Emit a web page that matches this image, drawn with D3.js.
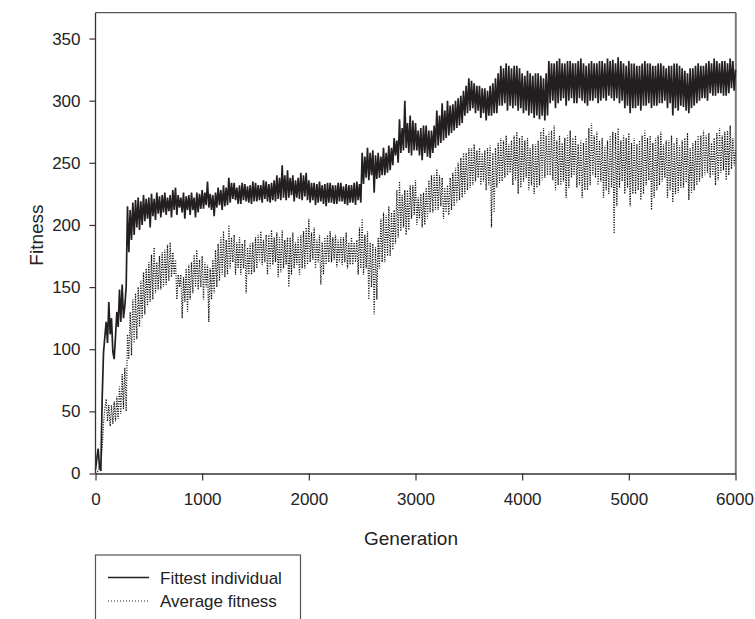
<!DOCTYPE html>
<html><head><meta charset="utf-8">
<script src="https://cdn.jsdelivr.net/npm/d3@7"></script>
<style>body{margin:0;background:#fff;}svg{display:block;font-family:"Liberation Sans",Arial,sans-serif;}</style>
</head><body>
<svg id="chart" width="755" height="619"></svg>
<script>
const genStep = 12.5;
const xTicks = [0, 1000, 2000, 3000, 4000, 5000, 6000];
const yTicks = [0, 50, 100, 150, 200, 250, 300, 350];
const seriesNames = ["Fittest individual", "Average fitness"];

const fittest = [
  3,12,20,5,2,60,97,110,122,105,138,112,125,98,92,110,130,118,148,122,
  152,125,135,150,215,178,212,188,218,192,220,198,222,196,219,200,224,203,221,205,
  222,198,225,207,221,204,226,209,223,206,224,210,226,208,222,211,224,206,228,212,
  230,208,224,214,222,210,226,205,223,212,224,208,226,212,222,206,226,210,225,213,
  228,213,226,216,235,214,225,212,224,207,226,214,230,216,228,212,232,215,230,216,
  238,218,234,221,234,220,230,217,232,217,234,220,233,219,231,218,232,217,235,219,
  234,219,232,220,232,218,236,221,235,219,233,218,234,220,236,219,240,221,238,220,
  248,222,240,220,244,222,238,224,240,219,236,222,238,221,242,220,240,223,242,220,
  236,218,234,220,234,216,233,218,235,219,232,217,233,215,234,218,234,218,232,217,
  232,217,234,219,234,219,231,217,233,216,232,218,232,218,234,216,235,220,233,218,
  258,233,255,238,262,236,258,240,260,226,256,237,258,238,255,240,262,240,258,242,
  264,244,262,248,270,256,268,250,285,258,278,260,300,262,282,258,288,256,284,260,
  282,260,276,256,278,252,280,258,280,255,276,254,276,258,280,262,292,264,288,266,
  298,268,292,270,300,272,296,274,297,276,300,278,302,280,304,282,308,288,312,290,
  318,292,316,294,314,290,312,292,312,286,310,290,310,284,308,288,312,288,314,290,
  318,290,322,296,328,296,326,298,330,292,328,296,326,294,328,296,328,292,326,294,
  322,290,320,292,324,288,322,290,320,286,322,288,322,285,320,288,318,284,322,288,
  332,298,330,300,330,294,332,298,334,300,330,302,330,296,332,300,332,302,330,298,
  330,298,332,302,334,300,330,298,328,296,330,300,332,300,330,302,330,298,332,300,
  332,302,330,300,334,304,332,302,333,300,330,302,335,298,332,300,330,294,328,296,
  332,290,330,294,330,294,328,296,328,292,330,296,332,296,330,298,330,294,328,296,
  328,296,330,298,330,298,328,300,326,294,328,298,328,288,330,294,330,292,328,296,
  326,295,324,292,322,290,326,294,326,296,328,298,330,300,328,302,328,302,330,300,
  332,306,330,304,334,304,332,306,330,306,332,304,332,304,330,306,334,310,332,308,
  325
];

const average = [
  0,1,2,6,8,20,40,52,60,42,55,38,55,40,58,42,62,44,70,48,
  80,52,85,50,112,92,130,95,140,105,145,108,150,118,155,125,162,128,165,135,
  170,138,176,140,182,145,170,148,175,148,178,150,180,152,184,155,186,158,178,160,
  172,140,160,150,160,125,158,138,165,130,168,140,170,145,176,150,180,148,172,150,
  175,140,170,150,168,122,165,140,172,145,180,150,185,155,190,160,195,158,188,160,
  200,165,190,170,192,160,186,165,190,160,185,165,188,145,182,160,185,160,186,162,
  190,165,192,170,195,168,188,170,192,160,192,165,196,168,190,170,194,158,190,162,
  196,165,188,168,190,150,190,160,194,165,186,168,190,160,192,165,195,165,198,168,
  205,170,194,172,198,165,188,170,192,152,186,160,190,168,192,170,195,170,190,172,
  192,166,188,170,190,168,190,170,194,165,186,168,190,168,186,170,188,160,198,165,
  205,160,192,165,195,140,186,150,185,128,182,140,190,165,205,170,210,170,208,175,
  215,175,210,180,212,185,228,190,235,195,224,198,228,192,228,196,232,205,232,208,
  236,200,222,205,225,198,226,200,230,205,236,210,240,210,240,212,245,212,240,215,
  238,205,230,210,232,208,238,212,242,215,246,218,250,220,254,222,258,225,258,228,
  262,230,262,232,265,235,260,238,262,232,258,235,260,228,262,232,264,198,258,210,
  262,230,266,234,270,235,268,238,272,240,265,242,268,232,272,236,275,225,270,230,
  272,235,268,238,270,228,262,232,265,225,265,230,268,232,275,236,278,238,272,240,
  275,240,276,236,280,228,268,232,272,232,266,235,270,222,272,230,276,238,270,240,
  272,230,265,232,268,222,266,228,270,228,278,232,282,240,272,238,275,232,268,235,
  270,222,264,228,268,225,272,230,275,193,274,215,278,230,268,235,272,225,270,230,
  274,215,266,225,270,225,265,228,268,220,272,225,276,232,270,236,272,212,266,222,
  270,228,272,232,275,235,265,238,268,222,268,228,272,218,266,225,270,226,264,230,
  268,230,270,234,274,220,262,226,266,228,268,232,272,235,272,238,276,240,272,242,
  274,238,266,240,270,232,274,236,278,242,272,244,275,236,276,240,280,245,270,248,
  260
];

const svg = d3.select("#chart");
const x = d3.scaleLinear().domain([0, 6000]).range([95.5, 735.5]);
const y = d3.scaleLinear().domain([0, 370.8]).range([473.5, 12.7]);
const ink = "#231f20";

// frame top & right
svg.append("line").attr("x1", 95.5).attr("x2", 736).attr("y1", 12.7).attr("y2", 12.7)
  .attr("stroke", "#555").attr("stroke-width", 1.3);
svg.append("line").attr("x1", 735.8).attr("x2", 735.8).attr("y1", 12.7).attr("y2", 473.5)
  .attr("stroke", "#7a7a7a").attr("stroke-width", 2);

// lines
const line = d3.line().x((d, i) => x(i * genStep)).y(d => y(d));
svg.append("path").datum(average).attr("d", line).attr("fill", "none")
  .attr("stroke", "#111").attr("stroke-width", 1.25).attr("stroke-dasharray", "1.1,1.4");
svg.append("path").datum(fittest).attr("d", line).attr("fill", "none")
  .attr("stroke", ink).attr("stroke-width", 1.7).attr("stroke-linejoin", "miter");

// axes
const yAxis = d3.axisLeft(y).tickValues(yTicks).tickSize(6).tickPadding(9).tickSizeOuter(0);
const gy = svg.append("g").attr("transform", "translate(95.5,0)").call(yAxis);
const xAxis = d3.axisBottom(x).tickValues(xTicks).tickFormat(d3.format("d"))
  .tickSize(7).tickPadding(12).tickSizeOuter(0);
const gx = svg.append("g").attr("transform", "translate(0,473.5)").call(xAxis);
[gx, gy].forEach(g => {
  g.select(".domain").attr("stroke", "#333").attr("stroke-width", 1.3);
  g.selectAll(".tick line").attr("stroke", "#333").attr("stroke-width", 1.2);
  g.selectAll(".tick text").attr("fill", "#222").style("font-size", "17px")
    .style("font-family", "'Liberation Sans', Arial, sans-serif");
});
gy.select(".domain").attr("d", "M0,473.5V12.7");
gx.selectAll(".tick text").filter(d => d === 6000).attr("dx", "-1");

// axis titles
svg.append("text").attr("x", 411).attr("y", 545).attr("text-anchor", "middle")
  .style("font-size", "19px").attr("fill", "#222").text("Generation");
svg.append("text").attr("transform", "translate(43,235) rotate(-90)").attr("text-anchor", "middle")
  .style("font-size", "19px").attr("fill", "#222").text("Fitness");

// legend
const lg = svg.append("g");
lg.append("rect").attr("x", 95.5).attr("y", 555).attr("width", 205).attr("height", 80)
  .attr("fill", "none").attr("stroke", "#555").attr("stroke-width", 1.2);
seriesNames.forEach((name, i) => {
  const yy = 577.5 + i * 23.5;
  lg.append("line").attr("x1", 108).attr("x2", 149).attr("y1", yy).attr("y2", yy)
    .attr("stroke", ink).attr("stroke-width", i === 0 ? 1.3 : 1.1)
    .attr("stroke-dasharray", i === 0 ? null : "1,2");
  lg.append("text").attr("x", 160).attr("y", yy + 6).style("font-size", "17px")
    .attr("fill", "#222").text(name);
});
</script>
</body></html>
